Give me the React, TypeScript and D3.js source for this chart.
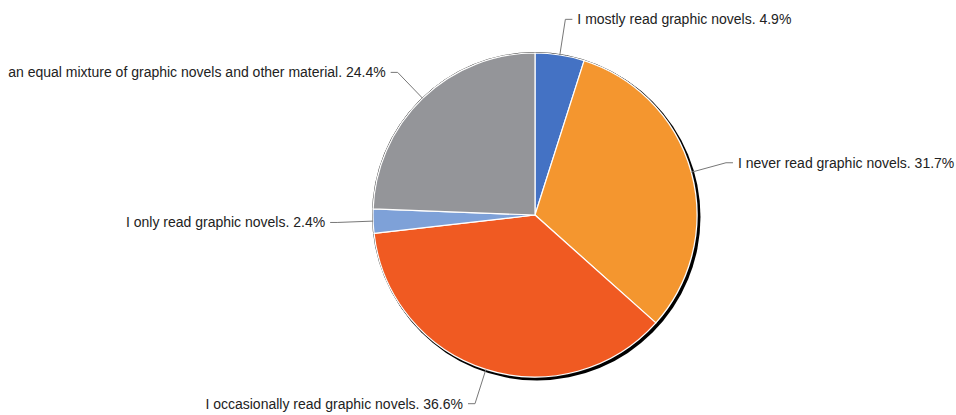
import React from "react";
import * as d3 from "d3";

const categories = [
  "I mostly read graphic novels.",
  "I never read graphic novels.",
  "I occasionally read graphic novels.",
  "I only read graphic novels.",
  "an equal mixture of graphic novels and other material.",
];
const values = [4.9, 31.7, 36.6, 2.4, 24.4];
const colors = ["#4472C4", "#F4962F", "#F05A22", "#7EA1D8", "#949599"];

const W = 956;
const H = 415;
const cx = 535;
const cy = 215;
const R = 162;

export default function App() {
  const data = categories.map((c, i) => ({ c, v: values[i], color: colors[i] }));
  const pie = d3.pie<any>().value((d) => d.v).sort(null);
  const arcs = pie(data);
  const arc = d3.arc<any>().innerRadius(0).outerRadius(R);
  const total = d3.sum(values);

  return (
    <svg width={W} height={H} style={{ position: "absolute", left: 0, top: 0 }}>
      <rect width={W} height={H} fill="#fff" />
      <circle cx={cx + 2} cy={cy + 2} r={R + 1.5} fill="#000" />
      <circle cx={cx} cy={cy} r={R + 0.5} fill="none" stroke="#333" strokeWidth={1} />
      <g transform={`translate(${cx},${cy})`}>
        {arcs.map((a, i) => (
          <path key={i} d={arc(a) as string} fill={a.data.color} stroke="#fff" strokeWidth={1.2} strokeLinejoin="round" />
        ))}
        {arcs.map((a, i) => {
          const mid = (a.startAngle + a.endAngle) / 2;
          const sx = Math.sin(mid), sy = -Math.cos(mid);
          const p0 = [sx * R, sy * R];
          const p1 = [sx * (R + 36), sy * (R + 36)];
          const right = sx >= 0;
          const p2 = [p1[0] + (right ? 7 : -7), p1[1]];
          const tx = p2[0] + (right ? 5 : -5);
          const pct = ((a.data.v / total) * 100).toFixed(1);
          return (
            <g key={"l" + i}>
              <polyline
                points={`${p0[0]},${p0[1]} ${p1[0]},${p1[1]} ${p2[0]},${p2[1]}`}
                fill="none"
                stroke="#777"
                strokeWidth={1}
              />
              <text
                x={tx}
                y={p1[1]}
                dy="0.35em"
                textAnchor={right ? "start" : "end"}
                fontFamily="Liberation Sans, Arial, sans-serif"
                fontSize={14}
                fill="#222"
              >
                {`${a.data.c} ${pct}%`}
              </text>
            </g>
          );
        })}
      </g>
    </svg>
  );
}
